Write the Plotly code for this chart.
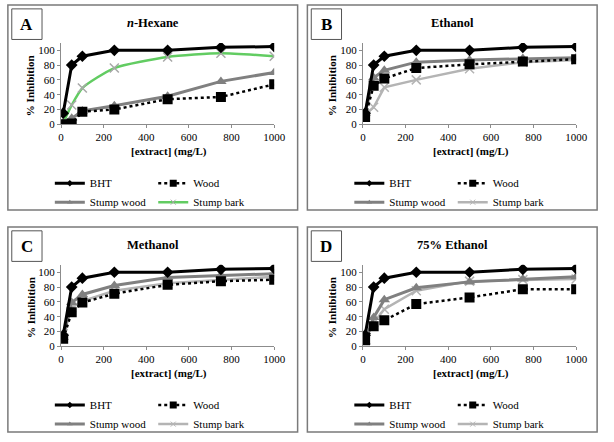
import plotly.graph_objects as go

W, H = 614, 442

# ---------------- data ----------------
x_conc = [10, 50, 100, 250, 500, 750, 1000]
series_names = ["BHT", "Wood", "Stump wood", "Stump bark"]
panel_letters = ["A", "B", "C", "D"]
panel_titles = ["<i>n</i>-Hexane", "Ethanol", "Methanol", "75% Ethanol"]
x_ticks = [0, 200, 400, 600, 800, 1000]
y_ticks = [0, 20, 40, 60, 80, 100]

bht = [15, 80, 92, 100, 100, 104, 105]

hexane_wood = [0, 1, 17, 20, 34, 37, 54]
hexane_stump_wood = [2, 8, 18, 25, 38, 58, 70]
hexane_stump_bark = [2, 26, 49, 76, 91, 96, 92]

ethanol_wood = [10, 52, 62, 76, 81, 85, 88]
ethanol_stump_wood = [15, 63, 73, 84, 87, 89, 90]
ethanol_stump_bark = [13, 23, 50, 60, 75, 84, 87]

methanol_wood = [10, 46, 59, 71, 83, 88, 90]
methanol_stump_wood = [12, 59, 70, 82, 93, 96, 98]
methanol_stump_bark = [17, 52, 61, 75, 85, 90, 94]

eth75_wood = [8, 27, 35, 57, 66, 77, 77]
eth75_stump_wood = [6, 39, 63, 79, 87, 91, 94]
eth75_stump_bark = [8, 32, 50, 75, 88, 90, 91]

panels = [
    (hexane_wood, hexane_stump_wood, hexane_stump_bark),
    (ethanol_wood, ethanol_stump_wood, ethanol_stump_bark),
    (methanol_wood, methanol_stump_wood, methanol_stump_bark),
    (eth75_wood, eth75_stump_wood, eth75_stump_bark),
]

# ---------------- layout geometry (pixels) ----------------
offsets = [(0, 0), (309.5, 0), (0, 225), (309.5, 225)]
border_offsets = [(0, 0), (307, 0), (0, 225), (307, 225)]
PX0, PX1 = 59.5, 278.0      # plot area x (panel A)
PY0, PY1 = 43.5, 126.0      # plot area y top/bottom (panel A)
YMAX = 110

def fx(x):
    return x / W

def fy(y):
    return 1 - y / H

SERIF = "Liberation Serif, Times New Roman, serif"

fig = go.Figure()

for i, (wood, swood, sbark) in enumerate(panels):
    ax = "" if i == 0 else str(i + 1)
    xa, ya = "x" + ax, "y" + ax
    lg1 = "legend" if i == 0 else "legend" + str(2 * i + 1)
    lg2 = "legend" + str(2 * i + 2)
    bark_line = "#62cc62" if i == 0 else "#b4b4b4"
    bark_marker = "#a8a8a8" if i == 0 else "#b4b4b4"
    traces = [
        dict(name="Stump bark", y=sbark, lg=lg2, rank=2,
             line=dict(color=bark_line, width=2.5, shape="spline" if i == 0 else "linear", smoothing=0.6),
             marker=dict(symbol="x-thin", size=9, line=dict(color=bark_marker, width=1.5), color=bark_marker),
             lmarker=dict(symbol="x-thin", size=5, line=dict(color=bark_marker, width=1), color=bark_marker)),
        dict(name="Stump wood", y=swood, lg=lg1, rank=2,
             line=dict(color="#808080", width=3),
             marker=dict(symbol="triangle-up", size=10, color="#808080"),
             lmarker=dict(symbol="triangle-up", size=5, color="#808080")),
        dict(name="Wood", y=wood, lg=lg2, rank=1,
             line=dict(color="black", width=2.5, dash="dot"),
             marker=dict(symbol="square", size=10, color="black"),
             lmarker=dict(symbol="square", size=7, color="black")),
        dict(name="BHT", y=bht, lg=lg1, rank=1,
             line=dict(color="black", width=3),
             marker=dict(symbol="diamond", size=9, color="black"),
             lmarker=dict(symbol="diamond", size=5, color="black")),
    ]
    for t in traces:
        # data trace
        fig.add_trace(go.Scatter(
            x=x_conc, y=t["y"], name=t["name"], mode="lines+markers",
            line=t["line"], marker=t["marker"], xaxis=xa, yaxis=ya,
            showlegend=False,
        ))
        # legend-only entry (small key markers like the original)
        lline = dict(t["line"])
        lline["shape"] = "linear"
        fig.add_trace(go.Scatter(
            x=[None], y=[None], name=t["name"], mode="lines+markers",
            line=lline, marker=t["lmarker"], xaxis=xa, yaxis=ya,
            legend=t["lg"], legendrank=t["rank"], showlegend=True,
            hoverinfo="skip",
        ))

    ox, oy = offsets[i]
    bx, by = border_offsets[i]
    xdom = [fx(PX0 + ox), fx(PX1 + ox)]
    ydom = [fy(PY1 + oy), fy(PY0 + oy)]
    axis_common = dict(showgrid=False, zeroline=False, showline=True,
                       linecolor="#8c8c8c", linewidth=1, ticks="outside",
                       ticklen=3, tickcolor="#8c8c8c",
                       tickfont=dict(family=SERIF, size=11, color="black"))
    legend_common = dict(xanchor="left", yanchor="top", orientation="v",
                         font=dict(family=SERIF, size=11, color="black"),
                         bgcolor="rgba(0,0,0,0)", itemsizing="trace",
                         traceorder="normal", tracegroupgap=0)
    fig.update_layout(**{
        ("xaxis" + ax): dict(domain=xdom, range=[0, 1000], tickvals=x_ticks,
                             anchor=ya, **axis_common),
        ("yaxis" + ax): dict(domain=ydom, range=[0, YMAX], tickvals=y_ticks,
                             anchor=xa, **axis_common),
        lg1: dict(x=fx(48 + bx), y=fy(171 + by), **legend_common),
        lg2: dict(x=fx(154 + bx), y=fy(171 + by), **legend_common),
    })

    # panel border
    fig.add_shape(type="rect", xref="paper", yref="paper",
                  x0=fx(5 + bx), x1=fx(302 + bx), y0=fy(213 + by), y1=fy(5 + by),
                  line=dict(color="#7a7a7a", width=1.5))
    # letter box
    fig.add_shape(type="rect", xref="paper", yref="paper",
                  x0=fx(9 + bx), x1=fx(40 + bx), y0=fy(40 + by), y1=fy(9 + by),
                  line=dict(color="#555555", width=1))
    fig.add_annotation(text="<b>%s</b>" % panel_letters[i], xref="paper", yref="paper",
                       x=fx(24.5 + bx), y=fy(25 + by), showarrow=False,
                       xanchor="center", yanchor="middle",
                       font=dict(family=SERIF, size=17, color="black"))
    # title
    fig.add_annotation(text="<b>%s</b>" % panel_titles[i], xref="paper", yref="paper",
                       x=fx(154 + bx), y=fy(23 + by), showarrow=False,
                       xanchor="center", yanchor="middle",
                       font=dict(family=SERIF, size=12.5, color="black"))
    # axis titles
    fig.add_annotation(text="<b>% Inhibition</b>", xref="paper", yref="paper",
                       x=fx(28 + ox), y=fy(87 + oy), showarrow=False, textangle=-90,
                       xanchor="center", yanchor="middle",
                       font=dict(family=SERIF, size=11, color="black"))
    fig.add_annotation(text="<b>[extract] (mg/L)</b>", xref="paper", yref="paper",
                       x=fx(170 + ox), y=fy(154 + oy), showarrow=False,
                       xanchor="center", yanchor="middle",
                       font=dict(family=SERIF, size=11, color="black"))

fig.update_layout(width=W, height=H, margin=dict(l=0, r=0, t=0, b=0),
                  font=dict(family=SERIF),
                  paper_bgcolor="white", plot_bgcolor="white", autosize=False)

fig.write_html("out.html")
